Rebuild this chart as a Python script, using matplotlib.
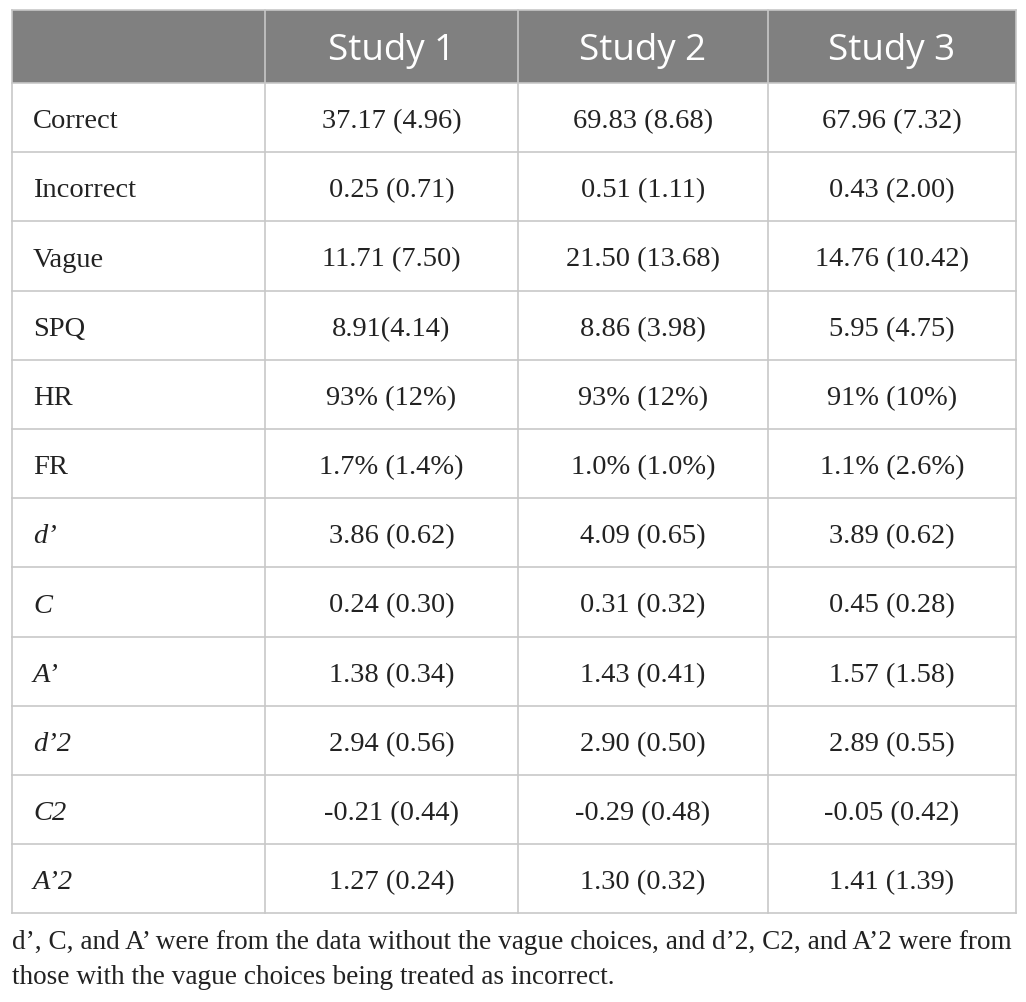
import matplotlib.pyplot as plt
from matplotlib.patches import Rectangle

# table content
columns = ["Study 1", "Study 2", "Study 3"]
row_labels = ["Correct", "Incorrect", "Vague", "SPQ", "HR", "FR",
              "d\u2019", "C", "A\u2019", "d\u20192", "C2", "A\u20192"]
italic_rows = [False, False, False, False, False, False,
               True, True, True, True, True, True]
study1 = ["37.17 (4.96)", "0.25 (0.71)", "11.71 (7.50)", "8.91(4.14)",
          "93% (12%)", "1.7% (1.4%)", "3.86 (0.62)", "0.24 (0.30)",
          "1.38 (0.34)", "2.94 (0.56)", "-0.21 (0.44)", "1.27 (0.24)"]
study2 = ["69.83 (8.68)", "0.51 (1.11)", "21.50 (13.68)", "8.86 (3.98)",
          "93% (12%)", "1.0% (1.0%)", "4.09 (0.65)", "0.31 (0.32)",
          "1.43 (0.41)", "2.90 (0.50)", "-0.29 (0.48)", "1.30 (0.32)"]
study3 = ["67.96 (7.32)", "0.43 (2.00)", "14.76 (10.42)", "5.95 (4.75)",
          "91% (10%)", "1.1% (2.6%)", "3.89 (0.62)", "0.45 (0.28)",
          "1.57 (1.58)", "2.89 (0.55)", "-0.05 (0.42)", "1.41 (1.39)"]
caption = ("d\u2019, C, and A\u2019 were from the data without the vague choices, and d\u20192, C2, and A\u20192 were from\n"
           "those with the vague choices being treated as incorrect.")

W, H = 1026, 1003
fig = plt.figure(figsize=(W / 100, H / 100), dpi=100)
ax = fig.add_axes([0, 0, 1, 1])
ax.set_xlim(0, W)
ax.set_ylim(H, 0)
ax.axis("off")

col_x = [12, 265, 518, 768, 1016]
top, head_h, row_h = 11, 73, 69.2
grid = "#c8c8c8"
serif = "Liberation Serif"
sans = "Open Sans"

# header
ax.add_patch(Rectangle((col_x[0], top), col_x[-1] - col_x[0], head_h,
                       facecolor="#808080", edgecolor="none"))
for j, name in enumerate(columns):
    cx = (col_x[j + 1] + col_x[j + 2]) / 2
    ax.text(cx, top + head_h / 2 + 3, name, ha="center", va="center",
            color="white", fontsize=26.5, family=sans)

# body rows
values = [study1, study2, study3]
for i, label in enumerate(row_labels):
    y0 = top + head_h + i * row_h
    yc = y0 + row_h / 2 + 3
    ax.text(col_x[0] + 21, yc, label, ha="left", va="center", fontsize=20.5,
            family=serif, style="italic" if italic_rows[i] else "normal",
            color="#222222")
    for j in range(3):
        cx = (col_x[j + 1] + col_x[j + 2]) / 2
        ax.text(cx, yc, values[j][i], ha="center", va="center", fontsize=20.5,
                family=serif, color="#222222")

bottom = top + head_h + len(row_labels) * row_h
# horizontal lines
for i in range(len(row_labels) + 1):
    y = top + head_h + i * row_h
    ax.plot([col_x[0], col_x[-1]], [y, y], color=grid, lw=1.2)
ax.plot([col_x[0], col_x[-1]], [top, top], color=grid, lw=1.2)
# vertical lines
for x in col_x:
    ax.plot([x, x], [top, bottom], color=grid, lw=1.2)

ax.text(col_x[0], bottom + 16, caption, ha="left", va="top", fontsize=19.6,
        family=serif, color="#222222", linespacing=1.5)

fig.savefig("out.png", dpi=100)
